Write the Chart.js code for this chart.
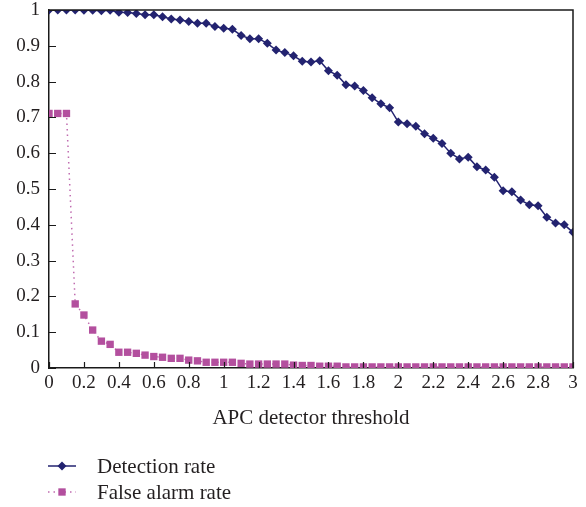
<!DOCTYPE html>
<html><head><meta charset="utf-8">
<script src="https://cdn.jsdelivr.net/npm/chart.js@4.4.1/dist/chart.umd.min.js"></script>
<style>html,body{margin:0;padding:0;background:#fff}</style>
</head><body>
<canvas id="c" width="586" height="507"></canvas>
<script>
const thresholds = [0,0.05,0.1,0.15,0.2,0.25,0.3,0.35,0.4,0.45,
  0.5,0.55,0.6,0.65,0.7,0.75,0.8,0.85,0.9,0.95,
  1,1.05,1.1,1.15,1.2,1.25,1.3,1.35,1.4,1.45,
  1.5,1.55,1.6,1.65,1.7,1.75,1.8,1.85,1.9,1.95,
  2,2.05,2.1,2.15,2.2,2.25,2.3,2.35,2.4,2.45,
  2.5,2.55,2.6,2.65,2.7,2.75,2.8,2.85,2.9,2.95,3];
const detectionRate = [1.000,1.000,1.000,1.000,0.999,0.999,0.998,0.999,0.994,0.993,
  0.990,0.987,0.987,0.981,0.975,0.972,0.968,0.963,0.963,0.954,
  0.949,0.946,0.929,0.920,0.920,0.907,0.888,0.881,0.872,0.857,
  0.855,0.858,0.830,0.818,0.791,0.788,0.775,0.755,0.738,0.727,
  0.687,0.682,0.675,0.654,0.642,0.627,0.600,0.584,0.589,0.562,
  0.553,0.533,0.495,0.492,0.469,0.456,0.453,0.421,0.405,0.400,0.379];
const falseAlarmRate = [0.711,0.711,0.711,0.179,0.148,0.106,0.075,0.066,0.044,0.044,
  0.041,0.036,0.032,0.030,0.027,0.027,0.022,0.020,0.016,0.016,
  0.016,0.016,0.013,0.011,0.011,0.011,0.011,0.011,0.008,0.007,
  0.007,0.005,0.005,0.005,0.003,0.003,0.003,0.003,0.003,0.003,
  0.003,0.003,0.003,0.003,0.003,0.003,0.003,0.003,0.003,0.003,
  0.003,0.003,0.003,0.003,0.003,0.003,0.003,0.003,0.003,0.003,0.003];
const xTickValues = [0,0.2,0.4,0.6,0.8,1,1.2,1.4,1.6,1.8,2,2.2,2.4,2.6,2.8,3];
const yTickValues = [0,0.1,0.2,0.3,0.4,0.5,0.6,0.7,0.8,0.9,1];
const seriesNames = ['Detection rate','False alarm rate'];
const xTitle = 'APC detector threshold';

const FONT = "'Liberation Serif', 'Times New Roman', serif";
const TEXT = '#231f20';
const NAVY = '#232370';
const MAG = '#b34f9e';

const framePlugin = {
  id: 'frame',
  afterDraw(chart) {
    const ctx = chart.ctx, a = chart.chartArea;
    const xs = chart.scales.x, ys = chart.scales.y;
    ctx.save();
    ctx.strokeStyle = '#1a1a1a';
    ctx.lineWidth = 1.5;
    ctx.beginPath();
    ctx.moveTo(a.left, a.top); ctx.lineTo(a.right, a.top); ctx.lineTo(a.right, a.bottom);
    ctx.stroke();
    ctx.lineWidth = 1.2;
    ctx.beginPath();
    ys.ticks.forEach(t => { const p = Math.round(ys.getPixelForValue(t.value)) + 0.5; ctx.moveTo(a.left, p); ctx.lineTo(a.left + 7, p); });
    xs.ticks.forEach(t => { const p = Math.round(xs.getPixelForValue(t.value)) + 0.5; ctx.moveTo(p, a.bottom); ctx.lineTo(p, a.bottom - 6); });
    ctx.stroke();
    // legend
    ctx.font = "21px " + FONT;
    ctx.textBaseline = 'middle';
    ctx.textAlign = 'left';
    chart.data.datasets.forEach((ds, i) => {
      const y = 466 + i * 26;
      ctx.save();
      ctx.strokeStyle = ds.borderColor;
      ctx.lineWidth = ds.borderWidth;
      ctx.setLineDash(ds.borderDash || []);
      ctx.beginPath(); ctx.moveTo(48, y); ctx.lineTo(76, y); ctx.stroke();
      ctx.restore();
      ctx.save();
      ctx.fillStyle = ds.pointBackgroundColor;
      ctx.strokeStyle = ds.pointBorderColor;
      Chart.helpers.drawPoint(ctx, {pointStyle: ds.pointStyle, radius: ds.pointRadius, rotation: 0, borderWidth: 0}, 62, y);
      ctx.restore();
      ctx.fillStyle = TEXT;
      ctx.fillText(ds.label, 97, y + 1);
    });
    ctx.restore();
  }
};

new Chart(document.getElementById('c'), {
  type: 'line',
  data: {
    datasets: [
      { label: seriesNames[0], data: thresholds.map((x, i) => ({x, y: detectionRate[i]})),
        borderColor: NAVY, borderWidth: 1.5, pointStyle: 'rectRot', pointRadius: 4.5,
        pointBackgroundColor: NAVY, pointBorderColor: NAVY, pointBorderWidth: 0, tension: 0 },
      { label: seriesNames[1], data: thresholds.map((x, i) => ({x, y: falseAlarmRate[i]})),
        borderColor: '#c06cb0', borderWidth: 1.5, borderDash: [1.5, 4], pointStyle: 'rect', pointRadius: 5.2,
        pointBackgroundColor: MAG, pointBorderColor: MAG, pointBorderWidth: 0, tension: 0 }
    ]
  },
  options: {
    responsive: false,
    animation: false,
    events: [],
    layout: { padding: { left: 0, right: 13, top: 0, bottom: 40 } },
    plugins: { legend: { display: false }, tooltip: { enabled: false } },
    scales: {
      x: {
        type: 'linear', min: 0, max: 3,
        afterBuildTicks: s => { s.ticks = xTickValues.map(v => ({value: v})); },
        afterFit: s => { s.height = 99; },
        grid: { display: false, drawTicks: false },
        border: { display: true, color: '#1a1a1a', width: 1.5 },
        ticks: { padding: 4, color: TEXT, font: { family: FONT, size: 19 }, maxRotation: 0, autoSkip: false,
                 callback: v => String(v) },
        title: { display: true, text: xTitle, color: TEXT, font: { family: FONT, size: 21 }, padding: { top: 4, bottom: 36 } }
      },
      y: {
        type: 'linear', min: 0, max: 1,
        afterBuildTicks: s => { s.ticks = yTickValues.map(v => ({value: v})); },
        afterFit: s => { s.width = 49; s.paddingTop = 10; s.paddingBottom = 0; },
        grid: { display: false, drawTicks: false },
        border: { display: true, color: '#1a1a1a', width: 1.5 },
        ticks: { padding: 9, color: TEXT, font: { family: FONT, size: 19 }, autoSkip: false,
                 callback: v => String(v) }
      }
    }
  },
  plugins: [framePlugin]
});
</script>
</body></html>
